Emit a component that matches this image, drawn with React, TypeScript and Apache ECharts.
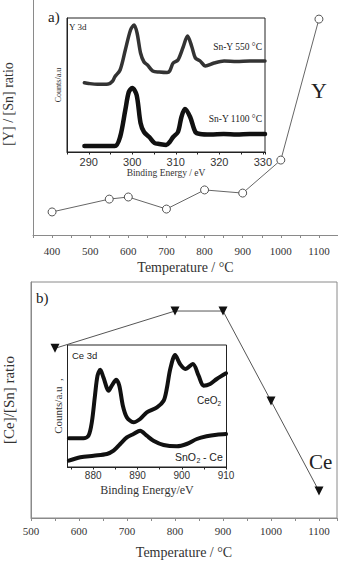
import React, { useEffect, useRef } from "react";
import * as echarts from "echarts";

// Panel a: [Y]/[Sn] ratio vs calcination temperature
const tempY = [400, 550, 600, 700, 800, 900, 1000, 1100];
const ratioY = [0.088, 0.137, 0.145, 0.099, 0.172, 0.16, 0.286, 0.824];

// Panel b: [Ce]/[Sn] ratio vs calcination temperature
const tempCe = [550, 800, 900, 1000, 1100];
const ratioCe = [0.719, 0.877, 0.877, 0.496, 0.114];

// Y 3d spectra (binding energy / eV, counts a.u.)
const be550 = [289, 290, 292, 294.5, 295.5, 296, 297.2, 298.4, 299.6, 300.4, 301.1, 301.9, 302.7, 303.5, 304.7, 306.2, 308, 308.6, 309.4, 310.5, 311.7, 312.7, 313.7, 314.5, 315.6, 316.8, 318.8, 321.1, 324, 327, 330.5];
const counts550 = [69.3, 68.5, 67.7, 68, 71, 75.3, 82, 102, 122, 127, 119, 99, 90, 87, 81, 80, 79.5, 81, 89, 92, 105, 116, 105, 94, 91, 86, 89, 91, 90.5, 91, 91];
const be1100 = [289, 296, 297.2, 298.4, 299.2, 300, 301, 301.9, 302.7, 303.9, 305.1, 306.2, 307.8, 308.6, 309.4, 310.5, 311.3, 312.1, 313.3, 314.5, 315.6, 318, 321, 324, 327, 330.5];
const counts1100 = [6, 6, 15, 42, 60, 64, 57, 29, 20, 15, 9, 8, 7, 10, 15, 20, 35, 43, 35, 20, 18, 17.5, 18, 17.5, 18, 18];

// Ce 3d spectra
const beCeO2 = [874.5, 877.8, 878.95, 879.7, 880.4, 880.98, 881.6, 882.3, 883.5, 884.2, 885.2, 885.9, 886.7, 887.6, 889.1, 890.6, 892.1, 894.4, 895.9, 896.6, 897.4, 898.5, 899.6, 900.8, 902.5, 903.8, 904.9, 906.4, 907.9, 910];
const countsCeO2 = [28.7, 28.7, 31.3, 45, 71.3, 91.3, 97.3, 89.7, 76.3, 81.3, 87.3, 81.3, 61.3, 49.7, 44.7, 48, 54.7, 59.7, 66.3, 78, 98, 112, 103, 98, 103, 91.3, 81.3, 83, 88, 93.7];
const beSnCe = [874.5, 877.1, 880.1, 883.1, 884.6, 886.1, 887.6, 889.1, 890.6, 892.1, 893.6, 895.9, 898.9, 901.1, 903.4, 905.6, 907.9, 910];
const countsSnCe = [6.3, 9.7, 11.3, 13, 16.3, 23, 29.7, 33, 36.3, 31.3, 26.3, 22, 20.7, 23, 28, 30.7, 32.3, 33];

// Tick positions of the Ce 3d inset
const ceTicks = [875, 880, 885, 890, 895, 900, 905, 910];
const ceLabels = [880, 890, 900, 910];

const SERIF = "Liberation Serif";
const SANS = "Liberation Sans";
const MAIN_AXIS = "#8a8a8a";
const INK = "#222";

const zip = (xs: number[], ys: number[]) => xs.map((x, i) => [x, ys[i]]);
const every = (step: number) => (v: number) =>
  Math.abs(v % step) < 1e-6 ? String(v) : "";

function mainX(grid: number, min: number, max: number, margin: number, nameGap: number) {
  return {
    gridIndex: grid,
    type: "value",
    min,
    max,
    interval: 50,
    axisLine: { show: true, onZero: false, lineStyle: { color: MAIN_AXIS, width: 1 } },
    axisTick: { show: true, length: 3, interval: 0, lineStyle: { color: MAIN_AXIS } },
    splitLine: { show: false },
    axisLabel: {
      interval: 0,
      formatter: every(100),
      fontFamily: SERIF,
      fontSize: 11,
      color: "#333",
      margin,
    },
    name: "Temperature / °C",
    nameLocation: "middle",
    nameGap,
    nameTextStyle: { fontFamily: SERIF, fontSize: 14, color: "#333" },
  };
}

function mainY(grid: number, name: string, nameGap: number, fontSize: number) {
  return {
    gridIndex: grid,
    type: "value",
    min: 0,
    max: 1,
    axisLine: { show: true, onZero: false, lineStyle: { color: MAIN_AXIS, width: 1 } },
    axisTick: { show: false },
    axisLabel: { show: false },
    splitLine: { show: false },
    name,
    nameLocation: "middle",
    nameGap,
    nameTextStyle: { fontFamily: SERIF, fontSize, color: "#333" },
  };
}

function insetY(grid: number, max: number, name: string, fontSize: number, nameGap: number) {
  return {
    gridIndex: grid,
    type: "value",
    min: 0,
    max,
    axisLine: { show: true, onZero: false, lineStyle: { color: INK, width: 1 } },
    axisTick: { show: false },
    axisLabel: { show: false },
    splitLine: { show: false },
    name,
    nameLocation: "middle",
    nameGap,
    nameTextStyle: { fontFamily: SERIF, fontSize, color: "#333" },
  };
}

function spectrum(axis: number, data: number[][], color: string, width: number) {
  return {
    type: "line",
    xAxisIndex: axis,
    yAxisIndex: axis,
    data,
    smooth: 0.3,
    showSymbol: false,
    symbol: "none",
    lineStyle: { color, width, cap: "round", join: "round" },
    z: 5,
  };
}

function label(text: string, x: number, y: number, font: string, size: number, align = "left") {
  return {
    type: "text",
    x,
    y,
    z: 10,
    style: {
      text,
      fill: "#222",
      font: `${size}px "${font}"`,
      textAlign: align,
      textVerticalAlign: "middle",
    },
  };
}

export default function App() {
  const ref = useRef<HTMLDivElement>(null);

  useEffect(() => {
    if (!ref.current) return;
    const chart = echarts.init(ref.current, null, { renderer: "svg" });

    chart.setOption({
      animation: false,
      backgroundColor: "#fff",
      grid: [
        { left: 33, top: -27, width: 305, height: 262, outerBoundsMode: "none", containLabel: false },
        { left: 31, top: 282, width: 306, height: 236, show: true, borderColor: MAIN_AXIS, borderWidth: 1, outerBoundsMode: "none", containLabel: false },
        { left: 67, top: 18, width: 198, height: 134, show: true, borderColor: INK, borderWidth: 1, backgroundColor: "#fff", outerBoundsMode: "none", containLabel: false },
        { left: 67.5, top: 345, width: 159, height: 122, show: true, borderColor: INK, borderWidth: 1, backgroundColor: "#fff", outerBoundsMode: "none", containLabel: false },
      ],
      xAxis: [
        mainX(0, 350, 1150, 10, 25),
        mainX(1, 500, 1137.5, 7, 27),
        {
          gridIndex: 2,
          type: "value",
          min: 285,
          max: 330.5,
          interval: 5,
          axisLine: { show: true, onZero: false, lineStyle: { color: INK, width: 1 } },
          axisTick: { show: true, length: 2.5, interval: 0, lineStyle: { color: INK } },
          splitLine: { show: false },
          axisLabel: {
            interval: 0,
            formatter: every(10),
            fontFamily: SANS,
            fontSize: 11,
            color: "#333",
            margin: 4,
          },
          name: "Binding Energy / eV",
          nameLocation: "middle",
          nameGap: 15,
          nameTextStyle: { fontFamily: SERIF, fontSize: 9.5, color: "#333" },
        },
        {
          gridIndex: 3,
          type: "value",
          min: 874.2,
          max: 910.1,
          axisLine: { show: true, onZero: false, lineStyle: { color: INK, width: 1 } },
          axisTick: { show: true, length: 2.5, customValues: ceTicks, lineStyle: { color: INK } },
          splitLine: { show: false },
          axisLabel: {
            customValues: ceLabels,
            fontFamily: SANS,
            fontSize: 10,
            color: "#333",
            margin: 3,
          },
          name: "Binding Energy/eV",
          nameLocation: "middle",
          nameGap: 17,
          nameTextStyle: { fontFamily: SERIF, fontSize: 12, color: "#333" },
        },
      ],
      yAxis: [
        mainY(0, "[Y] / [Sn] ratio", 18, 14),
        mainY(1, "[Ce]/[Sn] ratio", 15, 15),
        insetY(2, 134, "Counts/a.u", 8, 5),
        insetY(3, 122, "Counts/a.u  ,", 11, 4),
      ],
      series: [
        {
          type: "line",
          xAxisIndex: 0,
          yAxisIndex: 0,
          data: zip(tempY, ratioY),
          symbol: "circle",
          symbolSize: 8,
          itemStyle: { color: "#fff", borderColor: "#555", borderWidth: 1 },
          lineStyle: { color: "#666", width: 1 },
          z: 3,
        },
        {
          type: "line",
          xAxisIndex: 1,
          yAxisIndex: 1,
          data: zip(tempCe, ratioCe),
          symbol: "triangle",
          symbolRotate: 180,
          symbolSize: 9,
          itemStyle: { color: "#111" },
          lineStyle: { color: "#555", width: 1 },
          z: 3,
        },
        spectrum(2, zip(be550, counts550), "#333", 3.5),
        spectrum(2, zip(be1100, counts1100), "#111", 4.5),
        spectrum(3, zip(beCeO2, countsCeO2), "#111", 4),
        spectrum(3, zip(beSnCe, countsSnCe), "#111", 4),
      ],
      graphic: [
        label("a)", 48, 17, SERIF, 15),
        label("b)", 36, 298, SERIF, 15),
        label("Y", 311, 90, SERIF, 22),
        label("Ce", 309, 462, SERIF, 21),
        label("Y 3d", 69, 27, SERIF, 9),
        label("Sn-Y 550 °C", 262, 47, SERIF, 9.5, "right"),
        label("Sn-Y 1100 °C", 262, 119, SERIF, 9.5, "right"),
        label("Ce 3d", 72, 355, SANS, 9.5),
        label("CeO", 197, 400, SANS, 10),
        label("2", 217.5, 403.5, SANS, 6.5),
        label("SnO", 175, 457, SANS, 10.5),
        label("2", 196.5, 460.5, SANS, 7),
        label(" - Ce", 200, 457, SANS, 10.5),
      ],
    });

    return () => chart.dispose();
  }, []);

  return (
    <div
      ref={ref}
      style={{ position: "fixed", left: 0, top: 0, width: 338, height: 562, background: "#fff" }}
    />
  );
}
